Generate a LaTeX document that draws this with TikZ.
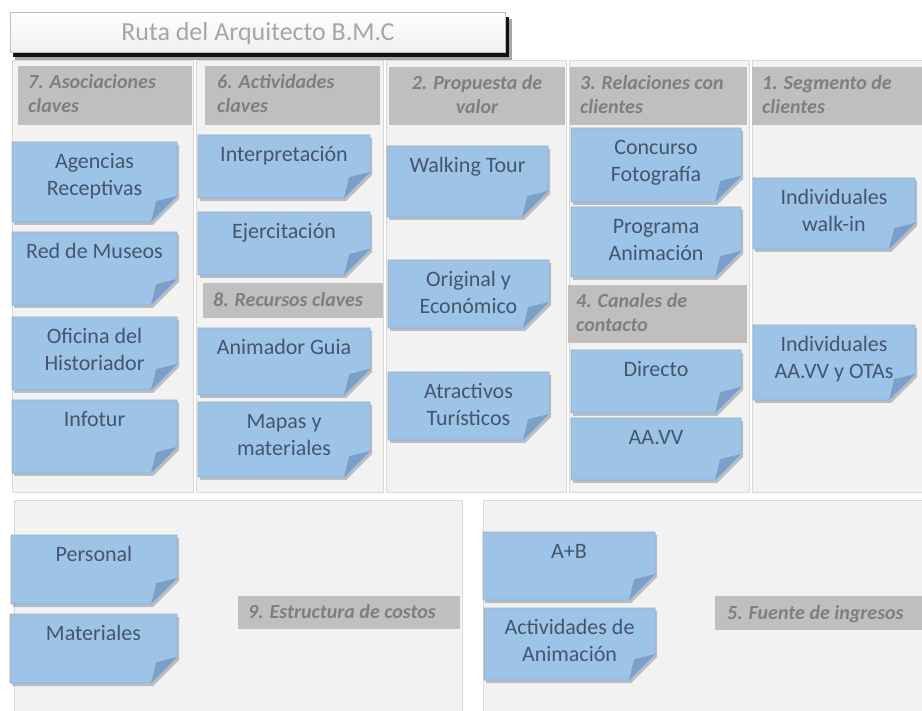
\documentclass[tikz,border=0pt]{standalone}
\usepackage{fontspec}
\setmainfont{Carlito}
\definecolor{panelfill}{HTML}{F2F2F2}
\definecolor{panelline}{HTML}{D9D9D9}
\definecolor{headfill}{HTML}{BFBFBF}
\definecolor{headtext}{HTML}{7F7F7F}
\definecolor{stfill}{HTML}{9DC3E6}
\definecolor{stline}{HTML}{8DB3DC}
\definecolor{stfold}{HTML}{7A9FC9}
\definecolor{sttext}{HTML}{44566E}
\definecolor{titletext}{HTML}{A6A6A6}
\newcommand\fo{26}
% sticky note: name, x1, y1, x2, y2, text
\newcommand\sticky[6]{%
  \fill[black,opacity=0.22] (#2+2,#3+3) -- (#4+2,#3+3) -- (#4+2,#5+3-\fo) -- (#4+2-\fo,#5+3) -- (#2+2,#5+3) -- cycle;
  \filldraw[fill=stfill,draw=stline,line width=0.6pt] (#2,#3) -- (#4,#3) -- (#4,#5-\fo) -- (#4-\fo,#5) -- (#2,#5) -- cycle;
  \fill[stfold] (#4-\fo,#5) -- (#4-0.8*\fo,#5-0.8*\fo) -- (#4,#5-\fo) -- cycle;
  \node[stxt] (#1) at ({(#2+#4)/2},#3+7) {\strut #6};
}
% header with left text: name, x1,y1,x2,y2, inset, text
\newcommand\headL[7]{%
  \fill[headfill] (#2,#3) rectangle (#4,#5);
  \node[htxt,anchor=north west,align=left] (#1) at (#2+#6,#3+6) {\strut #7};
}
\newcommand\headS[7]{%
  \fill[headfill] (#2,#3) rectangle (#4,#5);
  \node[htxt,anchor=base west] (#1) at (#2+#6,{(#3+#5)/2+6}) {#7};
}
\begin{document}
\begin{tikzpicture}[x=1pt,y=-1pt,
  stxt/.style={anchor=north,inner sep=0pt,align=center,text=sttext,font=\fontsize{22}{27}\selectfont},
  htxt/.style={inner sep=0pt,text=headtext,font=\fontsize{20}{24}\selectfont\bfseries\itshape},
  panel/.style={fill=panelfill,draw=panelline,line width=0.6pt}]
\useasboundingbox (0,0) rectangle (922,711);
\fill[white] (0,0) rectangle (922,711);
% panels
\path[panel] (12,60) rectangle (193,492);
\path[panel] (196,60) rectangle (383,492);
\path[panel] (386,60) rectangle (566,492);
\path[panel] (569,60) rectangle (749,492);
\path[panel] (752,60) rectangle (925,492);
\path[panel] (14,500) rectangle (462,715);
\path[panel] (483,500) rectangle (925,715);
% title
\fill[black,opacity=0.35] (15,19) rectangle (512,60);
\fill[black,opacity=0.9] (13,17) rectangle (509,57);
\shade[top color=white,bottom color=black!6,draw=black!25,line width=0.6pt] (10,12) rectangle (505,52);
\node[anchor=base,inner sep=0pt,text=titletext,font=\fontsize{26}{30}\selectfont] (title) at (258,41) {Ruta del Arquitecto B.M.C};
% headers
\headL{h7}{18}{66}{192}{125}{10}{7. Asociaciones\\claves}
\headL{h6}{205}{66}{380}{125}{12}{6. Actividades\\claves}
\fill[headfill] (389,67) rectangle (565,125);
\node[htxt,anchor=north,align=center] (h2) at (477,73) {\strut 2. Propuesta de\\valor};
\headL{h3}{570}{67}{747}{125}{10}{3. Relaciones con\\clientes}
\headL{h1}{752}{67}{922}{125}{10}{1. Segmento de\\clientes}
\headS{h8}{203}{283}{383}{318}{10}{8. Recursos claves}
\headL{h4}{568}{285}{747}{343}{8}{4. Canales de\\contacto}
\headS{h9}{238}{596}{460}{629}{10}{9. Estructura de costos}
\headS{h5}{715}{596}{922}{630}{12}{5. Fuente de ingresos}
% column 1
\sticky{agen}{12}{142}{177}{222}{Agencias\\Receptivas}
\sticky{red}{12}{232}{177}{305}{Red de Museos}
\sticky{ofi}{12}{317}{177}{390}{Oficina del\\Historiador}
\sticky{info}{12}{400}{177}{473}{Infotur}
% column 2
\sticky{interp}{198}{135}{370}{198}{Interpretación}
\sticky{ejer}{198}{212}{370}{275}{Ejercitación}
\sticky{anim}{198}{328}{370}{395}{Animador Guia}
\sticky{mapas}{198}{402}{370}{477}{Mapas y\\materiales}
% column 3
\sticky{walk}{387}{146}{548}{217}{Walking Tour}
\sticky{orig}{388}{260}{549}{328}{Original y\\Económico}
\sticky{atrac}{388}{372}{549}{440}{Atractivos\\Turísticos}
% column 4
\sticky{conc}{571}{128}{741}{202}{Concurso\\Fotografía}
\sticky{prog}{571}{207}{741}{277}{Programa\\Animación}
\sticky{dir}{571}{350}{741}{413}{Directo}
\sticky{aavv}{571}{418}{741}{480}{AA.VV}
% column 5
\sticky{walkin}{753}{178}{915}{249}{Individuales\\walk-in}
\sticky{otas}{753}{325}{915}{400}{Individuales\\AA.VV y OTAs}
% bottom
\sticky{pers}{11}{535}{177}{604}{Personal}
\sticky{mat}{10}{614}{177}{683}{Materiales}
\sticky{ab}{483}{532}{655}{600}{A+B}
\sticky{act}{484}{608}{655}{680}{Actividades de\\Animación}
\end{tikzpicture}
\end{document}
